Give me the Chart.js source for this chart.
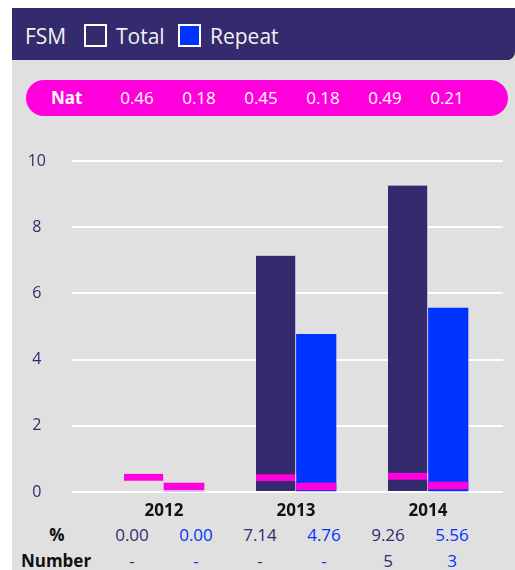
<!DOCTYPE html>
<html>
<head>
<meta charset="utf-8">
<script src="https://cdn.jsdelivr.net/npm/chart.js@4.4.1/dist/chart.umd.min.js"></script>
<style>
  html, body { margin: 0; padding: 0; background: #ffffff; }
  body { width: 515px; height: 570px; position: relative; overflow: hidden; font-family: "Open Sans", "Noto Sans", sans-serif; }
  #panel { position: absolute; left: 12px; top: 8px; width: 503px; height: 562px; background: #e0e0e0; }
  #header { position: absolute; left: 12px; top: 8px; width: 503px; height: 52px; background: #332b6d; border-bottom-right-radius: 8px; }
  .htxt { position: absolute; top: 24px; line-height: 24px; font-size: 21px; color: #f2f2f2; white-space: nowrap; }
  .hbox { position: absolute; top: 24px; width: 23px; height: 23px; box-sizing: border-box; border: 2px solid #ffffff; }
  #nat { position: absolute; left: 26px; top: 80px; width: 482px; height: 36px; border-radius: 18px; background: #ff00dd; }
  .ntxt { position: absolute; top: 80px; line-height: 36px; font-size: 17px; color: #ffffff; text-align: center; white-space: nowrap; }
  #chartbox { position: absolute; left: 12px; top: 130px; width: 503px; height: 390px; }
  #chartbox canvas { display: block; }
  .rowlab { position: absolute; font-size: 17px; font-weight: bold; color: #111111; text-align: center; white-space: nowrap; line-height: 22px; }
  .cell { position: absolute; font-size: 17px; text-align: center; white-space: nowrap; line-height: 22px; width: 64px; }
</style>
</head>
<body>
<div id="panel"></div>
<div id="header"></div>
<div id="nat"></div>
<div id="chartbox"><canvas id="c" width="503" height="390"></canvas></div>
<div id="overlay"></div>
<script>
// ---- data ----
const years = ['2012', '2013', '2014'];
const totalPct = [0.00, 7.14, 9.26];
const repeatPct = [0.00, 4.76, 5.56];
const natTotal = [0.46, 0.45, 0.49];
const natRepeat = [0.18, 0.18, 0.21];
const totalNumber = ['-', '-', '5'];
const repeatNumber = ['-', '-', '3'];
const yTicks = [0, 2, 4, 6, 8, 10];
const seriesNames = ['Total', 'Repeat'];
const headerTitle = 'FSM';

// ---- styles ----
const C_TOTAL = '#332b6d';
const C_REPEAT = '#0033ff';
const C_NAT = '#ff00dd';
const NAT_BELOW = 0.12, NAT_ABOVE = 0.09;

const ov = document.getElementById('overlay');
function addEl(cls, text, style) {
  const d = document.createElement('div');
  d.className = cls;
  d.textContent = text;
  Object.assign(d.style, style);
  ov.appendChild(d);
  return d;
}

// header
addEl('htxt', headerTitle, { left: '25px' });
addEl('hbox', '', { left: '84px', background: C_TOTAL });
addEl('htxt', seriesNames[0], { left: '116px' });
addEl('hbox', '', { left: '178px', background: C_REPEAT });
addEl('htxt', seriesNames[1], { left: '210px' });

// Nat pill
addEl('ntxt', 'Nat', { left: '51px', fontWeight: 'bold', textAlign: 'left' });
const natFlat = [];
years.forEach((y, i) => { natFlat.push(natTotal[i], natRepeat[i]); });
natFlat.forEach((v, k) => {
  addEl('ntxt', v.toFixed(2), { left: (106 + 62 * k) + 'px', width: '62px' });
});

// bottom rows
addEl('rowlab', '%', { left: '37px', width: '40px', top: '524px' });
addEl('rowlab', 'Number', { left: '16px', width: '80px', top: '550px' });
years.forEach((y, i) => {
  addEl('cell', totalPct[i].toFixed(2), { left: (100 + 128 * i) + 'px', top: '524px', color: C_TOTAL });
  addEl('cell', repeatPct[i].toFixed(2), { left: (164 + 128 * i) + 'px', top: '524px', color: C_REPEAT });
  addEl('cell', totalNumber[i], { left: (100 + 128 * i) + 'px', top: '550px', color: C_TOTAL });
  addEl('cell', repeatNumber[i], { left: (164 + 128 * i) + 'px', top: '550px', color: C_REPEAT });
});

// ---- chart ----
const xRange = { min: -0.69697, max: 2.56818 };
const natBand = v => [v - NAT_BELOW, v + NAT_ABOVE];

new Chart(document.getElementById('c'), {
  type: 'bar',
  data: {
    datasets: [
      {
        label: 'Nat Total', stack: 'T', order: 0,
        data: years.map((y, i) => ({ x: i, y: natBand(natTotal[i]) })),
        backgroundColor: C_NAT, borderColor: '#ffffff',
        borderWidth: { left: 0, right: 1, top: 0, bottom: 0 }, borderSkipped: false,
        barThickness: 40
      },
      {
        label: 'Nat Repeat', stack: 'R', order: 0,
        data: years.map((y, i) => ({ x: i, y: natBand(natRepeat[i]) })),
        backgroundColor: C_NAT, borderWidth: 0, barThickness: 40
      },
      {
        label: seriesNames[0], stack: 'T', order: 1,
        data: years.map((y, i) => ({ x: i, y: totalPct[i] })),
        backgroundColor: C_TOTAL, borderColor: '#ffffff',
        borderWidth: { left: 0, right: 1, top: 0, bottom: 0 }, borderSkipped: false,
        barThickness: 40
      },
      {
        label: seriesNames[1], stack: 'R', order: 1,
        data: years.map((y, i) => ({ x: i, y: repeatPct[i] })),
        backgroundColor: C_REPEAT, borderWidth: 0, barThickness: 40
      }
    ]
  },
  options: {
    responsive: false,
    animation: false,
    layout: { padding: { top: 31, right: 12, left: 0, bottom: 0 } },
    plugins: { legend: { display: false }, tooltip: { enabled: false } },
    scales: {
      x: {
        type: 'linear',
        min: xRange.min,
        max: xRange.max,
        offset: false,
        bounds: 'data',
        position: 'bottom',
        afterBuildTicks: ax => { ax.ticks = years.map((y, i) => ({ value: i })); },
        grid: { display: false, drawTicks: false },
        border: { display: false },
        ticks: {
          autoSkip: false, maxRotation: 0, padding: 9,
          color: '#111111',
          font: { family: 'Open Sans', size: 17, weight: 'bold' },
          callback: v => years[v]
        },
        afterFit: s => { s.height = 28; s.paddingLeft = 0; s.paddingRight = 0; }
      },
      y: {
        min: 0, max: 10,
        stacked: false,
        afterBuildTicks: ax => { ax.ticks = yTicks.map(v => ({ value: v })); },
        grid: { color: '#ffffff', lineWidth: 2, drawTicks: false },
        border: { display: false },
        ticks: {
          padding: 26, crossAlign: 'center',
          color: C_TOTAL,
          font: { family: 'Open Sans', size: 16 }
        },
        afterFit: s => { s.width = 60; s.paddingTop = 0; s.paddingBottom = 0; }
      }
    }
  }
});
</script>
</body>
</html>
